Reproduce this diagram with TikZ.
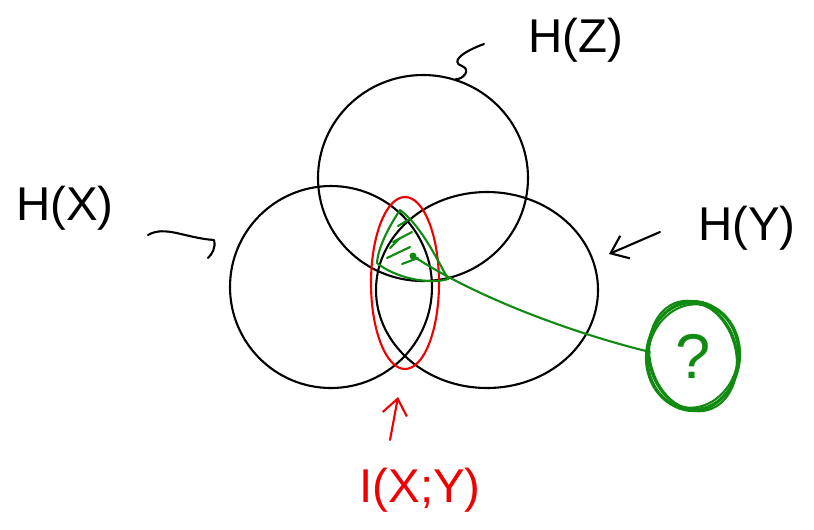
\documentclass[tikz,border=0pt]{standalone}
\usepackage{fontspec}
\setmainfont{Liberation Sans}
\usetikzlibrary{arrows.meta,positioning}
\definecolor{inkred}{HTML}{F00000}
\definecolor{inkgreen}{HTML}{108A10}

\begin{document}
\begin{tikzpicture}[x=0.02cm, y=-0.02cm,
  pen/.style={line width=1.2pt, line cap=round, line join=round, draw=#1},
  pen/.default=black,
  hand/.style={font=\fontsize{27}{32}\selectfont, inner sep=0pt, text=#1},
  hand/.default=black,
]
\useasboundingbox (0,0) rectangle (814,529);

% the three entropies
\draw[pen] (423,178) ellipse (105 and 103);
\draw[pen] (331,287) ellipse (101 and 101);
\draw[pen] (487,290) ellipse (111 and 98);

% mutual information I(X;Y)
\draw[pen=inkred] (405,283) ellipse (34 and 86);

% shaded triple overlap
\draw[pen=inkgreen] (400,210) .. controls (388,228) and (378,248) .. (377,263)
  .. controls (395,278) and (430,285) .. (448,279)
  .. controls (435,255) and (420,225) .. (400,210) -- cycle;
\foreach \a/\b in {{(393,242)/(412,232)}, {(387,258)/(410,247)}, {(398,226)/(408,220)}, {(402,264)/(418,258)}, {(390,248)/(400,238)}}
  \draw[pen=inkgreen] \a -- \b;
\coordinate (dot) at (413,256);
\fill[inkgreen] (dot) circle (3.5);

% labels
\node[hand] (hz) at (576,40) {H(Z)};
\node[hand] (hx) at (65,208) {H(X)};
\node[hand] (hy) at (747,228) {H(Y)};
\node[hand=inkred] (ixy) at (420,490) {I(X;Y)};
\node[hand=inkgreen, font=\fontsize{36}{40}\selectfont] (q) at (693,356) {?};

% scribbled ring round the question
\foreach \r/\s/\t in {0/46/55, 8/44/53, -6/47/54, 15/43/56, -12/45/52}
  \draw[pen=inkgreen] (q) ellipse[x radius=\s, y radius=\t, rotate=\r];

% pointers
\coordinate (ztail) at (484,44);
\coordinate (ztip) at (456,79);
\draw[pen] (ztail) .. controls (462,52) and (450,62) .. (462,66)
  .. controls (472,70) and (462,80) .. (ztip);
\coordinate (xtail) at (148,235);
\coordinate (xtip) at (208,258);
\draw[pen] (xtail) .. controls (165,225) and (185,238) .. (214,240)
  .. controls (216,248) and (212,254) .. (xtip);
\coordinate (ytail) at (660,232);
\coordinate (ytip) at (609,254);
\draw[pen, -{Straight Barb[length=9pt, width=14pt]}] (ytail) -- (ytip);
\coordinate (itail) at (390,440);
\coordinate (itip) at (398,397);
\draw[pen=inkred, -{Straight Barb[length=9pt, width=14pt]}] (itail) -- (itip);

% green link to the question
\draw[pen=inkgreen] (dot) .. controls (480,300) and (580,335) .. (650,352);
\end{tikzpicture}
\end{document}
